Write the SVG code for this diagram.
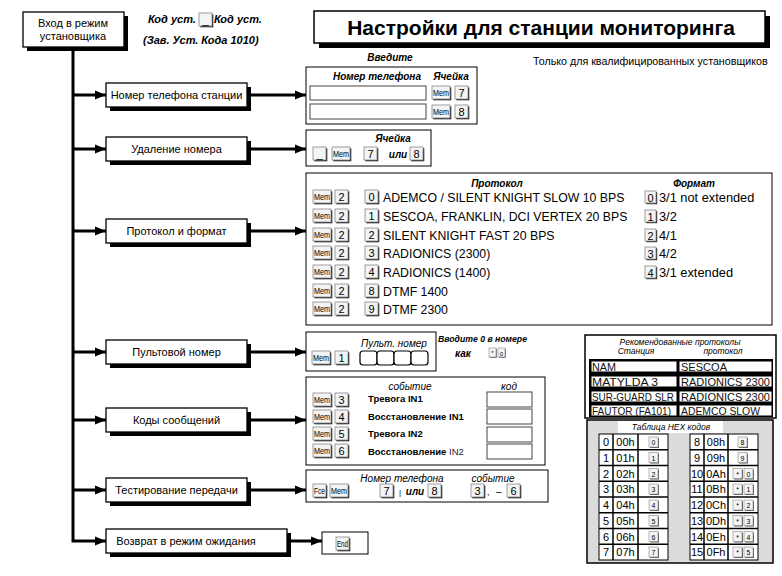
<svg xmlns="http://www.w3.org/2000/svg" xmlns:xlink="http://www.w3.org/1999/xlink" width="782" height="576" viewBox="0 0 782 576">
<style>
text{font-family:"Liberation Sans",Arial,sans-serif;fill:#000}
.node{fill:#fff;stroke:#000;stroke-width:1.3}
.sh{fill:#000}
.nt{font-size:11px;text-anchor:middle}
.box{fill:#fff;stroke:#000;stroke-width:1}
.hd{font-size:10px;font-style:italic;font-weight:bold;text-anchor:middle}
.hi{font-size:10px;font-style:italic;text-anchor:middle}
.kt{font-size:11px;text-anchor:middle}
.mt{font-size:9px;text-anchor:middle}
.pr{font-size:12.3px}
.fm{font-size:12.8px}
.lb{font-size:9.5px;font-weight:bold}
.fld{fill:#fff;stroke:#444;stroke-width:1}
.conn{stroke:#000;stroke-width:3;fill:none}
.ht{font-size:11px;text-anchor:middle}
.tt{font-size:10.5px;fill:#111}
.hc{fill:#fff;stroke:#000;stroke-width:1}
.sk{font-size:7px;text-anchor:middle}
</style>
<defs>
<marker id="ah" markerWidth="12" markerHeight="10" refX="11" refY="5" orient="auto" markerUnits="userSpaceOnUse"><path d="M0,0.5 L11,5 L0,9.5 z" fill="#000"/></marker>
<g id="k14"><rect x="1.3" y="1.3" width="13" height="13" fill="#222"/><rect x="0" y="0" width="13" height="13" fill="#f4f4f4" stroke="#888" stroke-width="0.8"/></g>
<g id="k19"><rect x="1.3" y="1.3" width="18" height="13" fill="#222"/><rect x="0" y="0" width="18" height="13" fill="#f4f4f4" stroke="#888" stroke-width="0.8"/></g>
<g id="k12"><rect x="1.2" y="1.2" width="11" height="12" fill="#222"/><rect x="0" y="0" width="11" height="12" fill="#f4f4f4" stroke="#888" stroke-width="0.8"/></g>
<g id="k9"><rect x="1" y="1" width="9" height="10" fill="#555"/><rect x="0" y="0" width="9" height="10" fill="#f4f4f4" stroke="#999" stroke-width="0.7"/></g>
<g id="k7"><rect x="0.8" y="0.8" width="7" height="9" fill="#555"/><rect x="0" y="0" width="7" height="9" fill="#f4f4f4" stroke="#999" stroke-width="0.7"/></g>
</defs>

<!-- connectors -->
<g id="connectors">
<path class="conn" d="M73,47 V541 H106" marker-end="url(#ah)"/>
<line class="conn" x1="73" y1="95" x2="106" y2="95" marker-end="url(#ah)"/>
<line class="conn" x1="73" y1="149" x2="106" y2="149" marker-end="url(#ah)"/>
<line class="conn" x1="73" y1="231" x2="106" y2="231" marker-end="url(#ah)"/>
<line class="conn" x1="73" y1="352" x2="106" y2="352" marker-end="url(#ah)"/>
<line class="conn" x1="73" y1="420" x2="106" y2="420" marker-end="url(#ah)"/>
<line class="conn" x1="73" y1="490" x2="106" y2="490" marker-end="url(#ah)"/>
<line class="conn" x1="250" y1="95" x2="306" y2="95" marker-end="url(#ah)"/>
<line class="conn" x1="250" y1="149" x2="306" y2="149" marker-end="url(#ah)"/>
<line class="conn" x1="250" y1="231" x2="306" y2="231" marker-end="url(#ah)"/>
<line class="conn" x1="250" y1="352" x2="306" y2="352" marker-end="url(#ah)"/>
<line class="conn" x1="250" y1="420" x2="306" y2="420" marker-end="url(#ah)"/>
<line class="conn" x1="250" y1="490" x2="306" y2="490" marker-end="url(#ah)"/>
<line class="conn" x1="290" y1="541" x2="322" y2="541" marker-end="url(#ah)"/>
</g>

<!-- entry node -->
<g id="entry">
<rect class="sh" x="27" y="16" width="101" height="35"/>
<rect class="node" x="23" y="12" width="101" height="35"/>
<text class="nt" x="73" y="27">Вход в режим</text>
<text class="nt" x="73" y="40">установщика</text>
</g>
<g id="code-hint">
<text x="148" y="23" font-size="11" font-style="italic" font-weight="bold">Код уст.</text>
<use xlink:href="#k14" x="199" y="13"/>
<text class="kt" x="205.5" y="24">_</text>
<text x="214" y="23" font-size="11" font-style="italic" font-weight="bold">Код уст.</text>
<text x="143" y="44" font-size="11" font-style="italic" font-weight="bold">(Зав. Уст. Кода 1010)</text>
</g>

<!-- title -->
<g id="title">
<rect class="sh" x="319" y="16" width="451" height="32"/>
<rect x="314" y="11" width="451" height="32" fill="#fff" stroke="#000" stroke-width="1.5"/>
<text x="541" y="35" font-size="21" font-weight="bold" text-anchor="middle">Настройки для станции мониторинга</text>
<text x="533" y="65" font-size="10.7">Только для квалифицированных установщиков</text>
</g>

<!-- left nodes -->
<g id="n-phone"><rect class="sh" x="110" y="87" width="141" height="24"/><rect class="node" x="106" y="83" width="141" height="24"/><text class="nt" x="176.5" y="99">Номер телефона станции</text></g>
<g id="n-delete"><rect class="sh" x="110" y="141" width="141" height="24"/><rect class="node" x="106" y="137" width="141" height="24"/><text class="nt" x="176.5" y="153">Удаление номера</text></g>
<g id="n-protocol"><rect class="sh" x="110" y="223" width="141" height="24"/><rect class="node" x="106" y="219" width="141" height="24"/><text class="nt" x="176.5" y="235">Протокол и формат</text></g>
<g id="n-account"><rect class="sh" x="110" y="344" width="141" height="24"/><rect class="node" x="106" y="340" width="141" height="24"/><text class="nt" x="176.5" y="356">Пультовой номер</text></g>
<g id="n-codes"><rect class="sh" x="110" y="412" width="141" height="24"/><rect class="node" x="106" y="408" width="141" height="24"/><text class="nt" x="176.5" y="424">Коды сообщений</text></g>
<g id="n-test"><rect class="sh" x="110" y="482" width="141" height="24"/><rect class="node" x="106" y="478" width="141" height="24"/><text class="nt" x="176.5" y="494">Тестирование передачи</text></g>
<g id="n-return"><rect class="sh" x="110" y="533" width="181" height="24"/><rect class="node" x="106" y="529" width="181" height="24"/><text class="nt" x="186" y="545">Возврат в режим ожидания</text></g>

<!-- phone number box -->
<g id="b-phone">
<text class="hd" x="390" y="61" font-size="11">Введите</text>
<rect class="box" x="306" y="67" width="171" height="57"/>
<text class="hd" x="377" y="80">Номер телефона</text>
<text class="hd" x="451" y="80">Ячейка</text>
<rect class="fld" x="310" y="86" width="116" height="14"/>
<rect class="fld" x="310" y="104" width="116" height="15"/>
<use xlink:href="#k19" x="432" y="86"/><text class="mt" x="441" y="96" textLength="16" lengthAdjust="spacingAndGlyphs">Mem</text>
<use xlink:href="#k14" x="455" y="86"/><text class="kt" x="461.5" y="97">7</text>
<use xlink:href="#k19" x="432" y="105"/><text class="mt" x="441" y="115" textLength="16" lengthAdjust="spacingAndGlyphs">Mem</text>
<use xlink:href="#k14" x="455" y="105"/><text class="kt" x="461.5" y="116">8</text>
</g>

<!-- delete box -->
<g id="b-delete">
<rect class="box" x="306" y="130" width="125" height="36"/>
<text class="hd" x="393" y="142">Ячейка</text>
<use xlink:href="#k14" x="313" y="147"/><text class="kt" x="319.5" y="158">_</text>
<use xlink:href="#k19" x="332" y="147"/><text class="mt" x="341" y="157" textLength="16" lengthAdjust="spacingAndGlyphs">Mem</text>
<use xlink:href="#k14" x="364" y="147"/><text class="kt" x="370.5" y="158">7</text>
<text class="hd" x="398" y="158">или</text>
<use xlink:href="#k14" x="410" y="147"/><text class="kt" x="416.5" y="158">8</text>
</g>

<!-- protocol & format box -->
<g id="b-protocol">
<rect class="box" x="306" y="173" width="466" height="152"/>
<text class="hd" x="497" y="187">Протокол</text>
<text class="hd" x="694" y="187">Формат</text>
<use xlink:href="#k19" x="313" y="190"/><text class="mt" x="322" y="200" textLength="16" lengthAdjust="spacingAndGlyphs">Mem</text><use xlink:href="#k14" x="335" y="190"/><text class="kt" x="341.5" y="201">2</text><use xlink:href="#k14" x="365" y="190"/><text class="kt" x="371.5" y="201">0</text><text class="pr" x="383" y="202">ADEMCO / SILENT KNIGHT SLOW 10 BPS</text>
<use xlink:href="#k19" x="313" y="209"/><text class="mt" x="322" y="219" textLength="16" lengthAdjust="spacingAndGlyphs">Mem</text><use xlink:href="#k14" x="335" y="209"/><text class="kt" x="341.5" y="220">2</text><use xlink:href="#k14" x="365" y="209"/><text class="kt" x="371.5" y="220">1</text><text class="pr" x="383" y="221">SESCOA, FRANKLIN, DCI VERTEX 20 BPS</text>
<use xlink:href="#k19" x="313" y="228"/><text class="mt" x="322" y="238" textLength="16" lengthAdjust="spacingAndGlyphs">Mem</text><use xlink:href="#k14" x="335" y="228"/><text class="kt" x="341.5" y="239">2</text><use xlink:href="#k14" x="365" y="228"/><text class="kt" x="371.5" y="239">2</text><text class="pr" x="383" y="240">SILENT KNIGHT FAST 20 BPS</text>
<use xlink:href="#k19" x="313" y="246"/><text class="mt" x="322" y="256" textLength="16" lengthAdjust="spacingAndGlyphs">Mem</text><use xlink:href="#k14" x="335" y="246"/><text class="kt" x="341.5" y="257">2</text><use xlink:href="#k14" x="365" y="246"/><text class="kt" x="371.5" y="257">3</text><text class="pr" x="383" y="258">RADIONICS (2300)</text>
<use xlink:href="#k19" x="313" y="265"/><text class="mt" x="322" y="275" textLength="16" lengthAdjust="spacingAndGlyphs">Mem</text><use xlink:href="#k14" x="335" y="265"/><text class="kt" x="341.5" y="276">2</text><use xlink:href="#k14" x="365" y="265"/><text class="kt" x="371.5" y="276">4</text><text class="pr" x="383" y="277">RADIONICS (1400)</text>
<use xlink:href="#k19" x="313" y="284"/><text class="mt" x="322" y="294" textLength="16" lengthAdjust="spacingAndGlyphs">Mem</text><use xlink:href="#k14" x="335" y="284"/><text class="kt" x="341.5" y="295">2</text><use xlink:href="#k14" x="365" y="284"/><text class="kt" x="371.5" y="295">8</text><text class="pr" x="383" y="296">DTMF 1400</text>
<use xlink:href="#k19" x="313" y="302"/><text class="mt" x="322" y="312" textLength="16" lengthAdjust="spacingAndGlyphs">Mem</text><use xlink:href="#k14" x="335" y="302"/><text class="kt" x="341.5" y="313">2</text><use xlink:href="#k14" x="365" y="302"/><text class="kt" x="371.5" y="313">9</text><text class="pr" x="383" y="314">DTMF 2300</text>
<use xlink:href="#k12" x="645" y="191"/><text class="kt" x="650.5" y="201.5" font-size="10">0</text><text class="fm" x="659" y="202">3/1 not extended</text>
<use xlink:href="#k12" x="645" y="210"/><text class="kt" x="650.5" y="220.5" font-size="10">1</text><text class="fm" x="659" y="221">3/2</text>
<use xlink:href="#k12" x="645" y="229"/><text class="kt" x="650.5" y="239.5" font-size="10">2</text><text class="fm" x="659" y="240">4/1</text>
<use xlink:href="#k12" x="645" y="247"/><text class="kt" x="650.5" y="257.5" font-size="10">3</text><text class="fm" x="659" y="258">4/2</text>
<use xlink:href="#k12" x="645" y="266"/><text class="kt" x="650.5" y="276.5" font-size="10">4</text><text class="fm" x="659" y="277">3/1 extended</text>
</g>

<!-- account number box -->
<g id="b-account">
<rect class="box" x="306" y="332" width="130" height="39"/>
<text class="hi" x="394" y="347">Пульт. номер</text>
<use xlink:href="#k19" x="312" y="351"/><text class="mt" x="321" y="361" textLength="16" lengthAdjust="spacingAndGlyphs">Mem</text>
<use xlink:href="#k14" x="335" y="351"/><text class="kt" x="341.5" y="362">1</text>
<rect x="360" y="351" width="17" height="14" rx="3" fill="#fff" stroke="#000" stroke-width="1.2"/>
<rect x="377" y="351" width="17" height="14" rx="3" fill="#fff" stroke="#000" stroke-width="1.2"/>
<rect x="394" y="351" width="17" height="14" rx="3" fill="#fff" stroke="#000" stroke-width="1.2"/>
<rect x="411" y="351" width="17" height="14" rx="3" fill="#fff" stroke="#000" stroke-width="1.2"/>
<text x="438" y="342" font-size="9" font-style="italic" font-weight="bold" textLength="89" lengthAdjust="spacingAndGlyphs">Вводите 0 в номере</text>
<text class="hd" x="463" y="357" font-size="9.5">как</text>
<use xlink:href="#k7" x="489" y="348"/><text x="492.5" y="355" font-size="6" text-anchor="middle">*</text>
<use xlink:href="#k7" x="498" y="348"/><text x="501.5" y="355.5" font-size="6" text-anchor="middle">0</text>
</g>

<!-- message codes box -->
<g id="b-codes">
<rect class="box" x="306" y="377" width="239" height="88"/>
<text class="hi" x="410" y="390">событие</text>
<text class="hi" x="509" y="390">код</text>
<use xlink:href="#k19" x="313" y="393"/><text class="mt" x="322" y="403" textLength="16" lengthAdjust="spacingAndGlyphs">Mem</text><use xlink:href="#k14" x="335" y="393"/><text class="kt" x="341.5" y="404">3</text><text class="lb" x="368" y="402">Тревога IN1</text><rect class="fld" x="487" y="392" width="45" height="15" stroke="#000"/>
<use xlink:href="#k19" x="313" y="410"/><text class="mt" x="322" y="420" textLength="16" lengthAdjust="spacingAndGlyphs">Mem</text><use xlink:href="#k14" x="335" y="410"/><text class="kt" x="341.5" y="421">4</text><text class="lb" x="368" y="420">Восстановление IN1</text><rect class="fld" x="487" y="409" width="45" height="15" stroke="#000"/>
<use xlink:href="#k19" x="313" y="427"/><text class="mt" x="322" y="437" textLength="16" lengthAdjust="spacingAndGlyphs">Mem</text><use xlink:href="#k14" x="335" y="427"/><text class="kt" x="341.5" y="438">5</text><text class="lb" x="368" y="437">Тревога IN2</text><rect class="fld" x="487" y="427" width="45" height="15" stroke="#000"/>
<use xlink:href="#k19" x="313" y="444"/><text class="mt" x="322" y="454" textLength="16" lengthAdjust="spacingAndGlyphs">Mem</text><use xlink:href="#k14" x="335" y="444"/><text class="kt" x="341.5" y="455">6</text><text class="lb" x="368" y="455">Восстановление <tspan font-weight="normal" fill="#223">IN2</tspan></text><rect class="fld" x="487" y="444" width="45" height="15" stroke="#000"/>
</g>

<!-- test transmission box -->
<g id="b-test">
<rect class="box" x="306" y="470" width="242" height="32"/>
<text class="hi" x="402" y="482">Номер телефона</text>
<text class="hi" x="493" y="482">событие</text>
<use xlink:href="#k14" x="313" y="484"/><text x="319.5" y="494" font-size="9" text-anchor="middle" textLength="11" lengthAdjust="spacingAndGlyphs">Fce</text>
<use xlink:href="#k19" x="330" y="484"/><text class="mt" x="339" y="494" textLength="16" lengthAdjust="spacingAndGlyphs">Mem</text>
<use xlink:href="#k14" x="380" y="484"/><text class="kt" x="386.5" y="495">7</text>
<text x="399" y="495" font-size="8">|</text>
<text class="hd" x="415" y="495">или</text>
<use xlink:href="#k14" x="428" y="484"/><text class="kt" x="434.5" y="495">8</text>
<use xlink:href="#k14" x="471" y="484"/><text class="kt" x="477.5" y="495">3</text>
<text x="487" y="495" font-size="9">,</text>
<text x="496" y="495" font-size="10">–</text>
<use xlink:href="#k14" x="507" y="484"/><text class="kt" x="513.5" y="495">6</text>
</g>

<!-- end box -->
<g id="b-end">
<rect class="box" x="322" y="532" width="46" height="22"/>
<use xlink:href="#k14" x="336" y="537"/><text x="342.5" y="547" font-size="9" text-anchor="middle" textLength="11" lengthAdjust="spacingAndGlyphs">End</text>
</g>

<!-- recommended protocols -->
<g id="b-recommended">
<rect x="585" y="335" width="191" height="83" fill="#fff" stroke="#000" stroke-width="1.5"/>
<text x="680" y="345" font-size="8.5" font-style="italic" text-anchor="middle">Рекомендованные протоколы</text>
<text x="636" y="354" font-size="8.5" font-style="italic" text-anchor="middle">Станция</text>
<text x="723" y="354" font-size="8.5" font-style="italic" text-anchor="middle">протокол</text>
<rect x="589" y="359" width="184" height="58" fill="#000"/>
<rect class="hc" x="591" y="361" width="86" height="11"/><rect class="hc" x="679" y="361" width="93" height="11"/>
<rect class="hc" x="591" y="376" width="86" height="11"/><rect class="hc" x="679" y="376" width="93" height="11"/>
<rect class="hc" x="591" y="391" width="86" height="11"/><rect class="hc" x="679" y="391" width="93" height="11"/>
<rect class="hc" x="591" y="405" width="86" height="11"/><rect class="hc" x="679" y="405" width="93" height="11"/>
<text class="tt" x="592" y="370.5" textLength="24" lengthAdjust="spacingAndGlyphs">NAM</text><text class="tt" x="681" y="370.5" textLength="46" lengthAdjust="spacingAndGlyphs">SESCOA</text>
<text class="tt" x="592" y="385.5" textLength="66" lengthAdjust="spacingAndGlyphs">MATYLDA 3</text><text class="tt" x="681" y="385.5" textLength="89" lengthAdjust="spacingAndGlyphs">RADIONICS 2300</text>
<text class="tt" x="592" y="400.5" textLength="82" lengthAdjust="spacingAndGlyphs">SUR-GUARD SLR</text><text class="tt" x="681" y="400.5" textLength="89" lengthAdjust="spacingAndGlyphs">RADIONICS 2300</text>
<text class="tt" x="592" y="414.5" textLength="79" lengthAdjust="spacingAndGlyphs">FAUTOR (FA101)</text><text class="tt" x="681" y="414.5" textLength="79" lengthAdjust="spacingAndGlyphs">ADEMCO SLOW</text>
</g>

<!-- HEX table -->
<g id="b-hex">
<rect x="587" y="420" width="186" height="143" fill="#dcdcdc" stroke="#000" stroke-width="1.5"/>
<rect x="618" y="421" width="105" height="12" fill="#fff"/>
<text x="671" y="430" font-size="8.5" font-style="italic" text-anchor="middle">Таблица HEX кодов</text>
<g fill="#fff" stroke="#000" stroke-width="1">
<rect x="599" y="434" width="69" height="126"/>
<rect x="690" y="434" width="68" height="126"/>
</g>
<g stroke="#000" stroke-width="1.5">
<line x1="613" y1="434" x2="613" y2="560"/><line x1="638" y1="434" x2="638" y2="560"/>
<line x1="704" y1="434" x2="704" y2="560"/><line x1="728" y1="434" x2="728" y2="560"/>
<line x1="599" y1="449.75" x2="668" y2="449.75"/><line x1="599" y1="465.5" x2="668" y2="465.5"/><line x1="599" y1="481.25" x2="668" y2="481.25"/><line x1="599" y1="497" x2="668" y2="497"/><line x1="599" y1="512.75" x2="668" y2="512.75"/><line x1="599" y1="528.5" x2="668" y2="528.5"/><line x1="599" y1="544.25" x2="668" y2="544.25"/>
<line x1="690" y1="449.75" x2="758" y2="449.75"/><line x1="690" y1="465.5" x2="758" y2="465.5"/><line x1="690" y1="481.25" x2="758" y2="481.25"/><line x1="690" y1="497" x2="758" y2="497"/><line x1="690" y1="512.75" x2="758" y2="512.75"/><line x1="690" y1="528.5" x2="758" y2="528.5"/><line x1="690" y1="544.25" x2="758" y2="544.25"/>
</g>
<text class="ht" x="606" y="446">0</text><text class="ht" x="625.5" y="446">00h</text><use xlink:href="#k9" x="649" y="437"/><text class="sk" x="653.5" y="445">0</text>
<text class="ht" x="606" y="461.5">1</text><text class="ht" x="625.5" y="461.5">01h</text><use xlink:href="#k9" x="649" y="452.5"/><text class="sk" x="653.5" y="460.5">1</text>
<text class="ht" x="606" y="477.5">2</text><text class="ht" x="625.5" y="477.5">02h</text><use xlink:href="#k9" x="649" y="468.5"/><text class="sk" x="653.5" y="476.5">2</text>
<text class="ht" x="606" y="493">3</text><text class="ht" x="625.5" y="493">03h</text><use xlink:href="#k9" x="649" y="484"/><text class="sk" x="653.5" y="492">3</text>
<text class="ht" x="606" y="509">4</text><text class="ht" x="625.5" y="509">04h</text><use xlink:href="#k9" x="649" y="500"/><text class="sk" x="653.5" y="508">4</text>
<text class="ht" x="606" y="524.5">5</text><text class="ht" x="625.5" y="524.5">05h</text><use xlink:href="#k9" x="649" y="515.5"/><text class="sk" x="653.5" y="523.5">5</text>
<text class="ht" x="606" y="540.5">6</text><text class="ht" x="625.5" y="540.5">06h</text><use xlink:href="#k9" x="649" y="531.5"/><text class="sk" x="653.5" y="539.5">6</text>
<text class="ht" x="606" y="556">7</text><text class="ht" x="625.5" y="556">07h</text><use xlink:href="#k9" x="649" y="547"/><text class="sk" x="653.5" y="555">7</text>
<text class="ht" x="697" y="446">8</text><text class="ht" x="716" y="446">08h</text><use xlink:href="#k9" x="738" y="437"/><text class="sk" x="742.5" y="445">8</text>
<text class="ht" x="697" y="461.5">9</text><text class="ht" x="716" y="461.5">09h</text><use xlink:href="#k9" x="738" y="452.5"/><text class="sk" x="742.5" y="460.5">9</text>
<text class="ht" x="697" y="477.5">10</text><text class="ht" x="716" y="477.5">0Ah</text><use xlink:href="#k9" x="733" y="468.5"/><text class="sk" x="737.5" y="476.5">*</text><use xlink:href="#k9" x="744" y="468.5"/><text class="sk" x="748.5" y="476.5">0</text>
<text class="ht" x="697" y="493">11</text><text class="ht" x="716" y="493">0Bh</text><use xlink:href="#k9" x="733" y="484"/><text class="sk" x="737.5" y="492">*</text><use xlink:href="#k9" x="744" y="484"/><text class="sk" x="748.5" y="492">1</text>
<text class="ht" x="697" y="509">12</text><text class="ht" x="716" y="509">0Ch</text><use xlink:href="#k9" x="733" y="500"/><text class="sk" x="737.5" y="508">*</text><use xlink:href="#k9" x="744" y="500"/><text class="sk" x="748.5" y="508">2</text>
<text class="ht" x="697" y="524.5">13</text><text class="ht" x="716" y="524.5">0Dh</text><use xlink:href="#k9" x="733" y="515.5"/><text class="sk" x="737.5" y="523.5">*</text><use xlink:href="#k9" x="744" y="515.5"/><text class="sk" x="748.5" y="523.5">3</text>
<text class="ht" x="697" y="540.5">14</text><text class="ht" x="716" y="540.5">0Eh</text><use xlink:href="#k9" x="733" y="531.5"/><text class="sk" x="737.5" y="539.5">*</text><use xlink:href="#k9" x="744" y="531.5"/><text class="sk" x="748.5" y="539.5">4</text>
<text class="ht" x="697" y="556">15</text><text class="ht" x="716" y="556">0Fh</text><use xlink:href="#k9" x="733" y="547"/><text class="sk" x="737.5" y="555">*</text><use xlink:href="#k9" x="744" y="547"/><text class="sk" x="748.5" y="555">5</text>
</g>
</svg>
